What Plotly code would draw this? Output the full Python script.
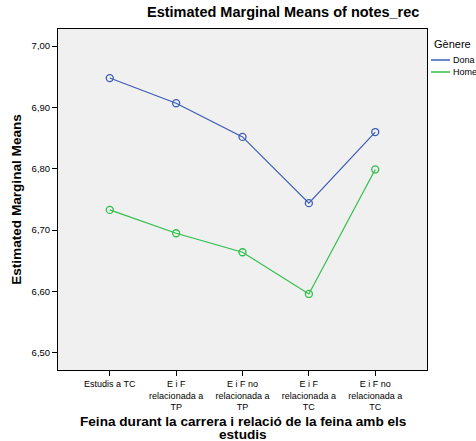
import plotly.graph_objects as go

categories = ["Estudis a TC", "E i F<br>relacionada a<br>TP", "E i F no<br>relacionada a<br>TP",
              "E i F<br>relacionada a<br>TC", "E i F no<br>relacionada a<br>TC"]
dona = [6.948, 6.907, 6.852, 6.744, 6.860]
home = [6.733, 6.695, 6.664, 6.596, 6.799]
series_names = ["Dona", "Home"]
series_colors = ["#3d5cb8", "#2ebf4a"]
y_ticks = [6.5, 6.6, 6.7, 6.8, 6.9, 7.0]
y_tick_labels = ["6,50", "6,60", "6,70", "6,80", "6,90", "7,00"]
x_title_lines = ["Feina durant la carrera i relació de la feina amb els", "estudis"]

FONT = "Liberation Sans, Arial, sans-serif"
W, H = 476, 441
L, R, T, B = 58, 49, 29, 71
xpos = list(range(len(categories)))

fig = go.Figure()
for name, vals, col in zip(series_names, [dona, home], series_colors):
    fig.add_trace(go.Scatter(x=xpos, y=vals, name=name, mode="lines+markers",
                             line=dict(color=col, width=1.2),
                             marker=dict(symbol="circle-open", size=7, color=col, line=dict(width=1.3))))

# manual legend (paper coords computed from pixel positions)
def px_x(p):
    return (p - L) / (W - L - R)

def px_y(p):
    return 1 - (p - T) / (H - T - B)

annotations = [dict(text="Gènere", x=px_x(432), y=px_y(44), xref="paper", yref="paper",
                    xanchor="left", yanchor="middle", showarrow=False, font=dict(size=11, family=FONT))]
shapes = []
for i, (name, col) in enumerate(zip(series_names, series_colors)):
    yy = px_y(60 + 12 * i)
    shapes.append(dict(type="line", xref="paper", yref="paper", x0=px_x(431), x1=px_x(450), y0=yy, y1=yy,
                       line=dict(color=col, width=1.5)))
    annotations.append(dict(text=name, x=px_x(451), y=yy, xref="paper", yref="paper", xanchor="left",
                            yanchor="middle", showarrow=False, font=dict(size=9, family=FONT)))

# x-axis title as two annotation lines (tight line spacing like the reference)
for i, line in enumerate(x_title_lines):
    annotations.append(dict(text="<b>" + line + "</b>", x=0.5, y=px_y(421 + 13.5 * i), xref="paper",
                            yref="paper", xanchor="center", yanchor="middle", showarrow=False,
                            font=dict(size=13.6, family=FONT)))

fig.update_layout(
    width=W, height=H,
    margin=dict(l=L, r=R, t=T, b=B, autoexpand=False),
    paper_bgcolor="white", plot_bgcolor="#f0f0f0",
    font=dict(family=FONT, size=10, color="black"),
    title=dict(text="<b>Estimated Marginal Means of notes_rec</b>", x=0.595, xanchor="center",
               y=0.985, yanchor="top", font=dict(size=14.5, family=FONT)),
    showlegend=False,
    annotations=annotations, shapes=shapes,
)
fig.update_xaxes(range=[-0.78, 4.78], tickvals=xpos, ticktext=categories,
                 showgrid=False, zeroline=False, showline=True, linecolor="black", linewidth=1, mirror=True,
                 ticks="outside", ticklen=5, tickcolor="black", tickfont=dict(size=9))
fig.update_yaxes(range=[6.472, 7.028], tickvals=y_ticks, ticktext=y_tick_labels,
                 showgrid=False, zeroline=False, showline=True, linecolor="black", linewidth=1, mirror=True,
                 ticks="outside", ticklen=5, tickcolor="black", tickfont=dict(size=9.5),
                 title=dict(text="<b>Estimated Marginal Means</b>", font=dict(size=13.6), standoff=6))

fig.write_html("out.html", config={"displayModeBar": False},
               post_script="document.body.style.margin='0';")
